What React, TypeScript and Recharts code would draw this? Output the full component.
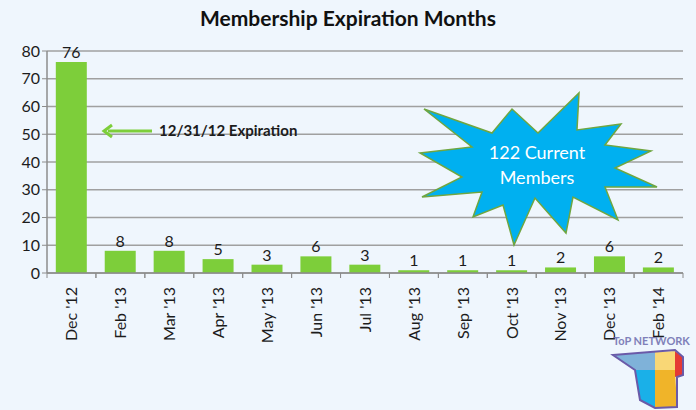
import { BarChart, Bar, XAxis, YAxis, CartesianGrid, LabelList } from 'recharts'

const MONTHS = ["Dec '12", "Feb '13", "Mar '13", "Apr '13", "May '13", "Jun '13", "Jul '13", "Aug '13", "Sep '13", "Oct '13", "Nov '13", "Dec '13", "Feb '14"]
const MEMBERS = [76, 8, 8, 5, 3, 6, 3, 1, 1, 1, 2, 6, 2]
const Y_TICKS = [0, 10, 20, 30, 40, 50, 60, 70, 80]

const W = 696
const H = 410
const LEFT = 47
const RIGHT = 13
const TOP = 51
const BAND = (W - LEFT - RIGHT) / MONTHS.length

const FONT = 'Lato, "Open Sans", sans-serif'
const GREEN = '#7dce3a'
const TEXT = '#1c1c1c'

const data = MONTHS.map((m, i) => ({ name: m, value: MEMBERS[i] }))

// starburst outline
const STAR = [
  [424, 109], [492, 133], [512, 109], [538, 133], [579, 93], [577, 130],
  [621, 124], [605, 145], [651, 151], [615, 168], [657, 187], [605, 187],
  [618, 220], [573, 197], [566, 233], [535, 198], [514, 245], [503, 205],
  [473, 217], [482, 192], [422, 197], [462, 177], [420, 153], [472, 147],
]

function MonthTick(props: any) {
  const { x, y, payload } = props
  return (
    <g>
      <line x1={x - BAND / 2} x2={x - BAND / 2} y1={y - 8} y2={y - 3} stroke="#8c8c8c" />
      <line x1={x + BAND / 2} x2={x + BAND / 2} y1={y - 8} y2={y - 3} stroke="#8c8c8c" />
      <g transform={`translate(${x},${y + 6})`}>
        <text
          transform="rotate(-90)"
          textAnchor="end"
          dy="0.36em"
          fontSize={16}
          fontFamily={FONT}
          fill={TEXT}
        >
          {payload.value}
        </text>
      </g>
    </g>
  )
}

export default function App() {
  return (
    <div style={{ position: 'absolute', left: 0, top: 0, width: W, height: H, background: '#eff6fd', overflow: 'hidden' }}>
      <div
        style={{
          position: 'absolute', left: 0, top: 5, width: W, textAlign: 'center',
          fontFamily: FONT, fontWeight: 700, fontSize: 21, color: '#111',
        }}
      >
        Membership Expiration Months
      </div>
      <BarChart
        width={W}
        height={H}
        data={data}
        margin={{ top: TOP, right: RIGHT, bottom: 77, left: 0 }}
        barCategoryGap="18%"
      >
        <CartesianGrid horizontal vertical={false} stroke="#a0a0a0" strokeWidth={1.5} />
        <XAxis
          dataKey="name"
          interval={0}
          height={60}
          tickLine={false}
          axisLine={{ stroke: '#8c8c8c', strokeWidth: 1.5 }}
          tick={<MonthTick />}
        />
        <YAxis
          domain={[0, 80]}
          ticks={Y_TICKS}
          width={LEFT}
          tickSize={5}
          tickLine={{ stroke: '#8c8c8c' }}
          axisLine={{ stroke: '#8c8c8c', strokeWidth: 1.5 }}
          tick={{ fontSize: 16, fontFamily: FONT, fill: TEXT }}
        />
        <Bar dataKey="value" fill={GREEN} isAnimationActive={false}>
          <LabelList dataKey="value" position="top" offset={4} fontSize={16} fontFamily={FONT} fill={TEXT} />
        </Bar>
      </BarChart>
      <svg width={W} height={H} style={{ position: 'absolute', left: 0, top: 0, pointerEvents: 'none' }}>
        {/* arrow to Dec '12 */}
        <line x1={108} y1={131} x2={152} y2={131} stroke={GREEN} strokeWidth={3} />
        <polyline points="112,125 104,131 112,137" fill="none" stroke={GREEN} strokeWidth={3} />
        <text x={159} y={136} fontSize={15} fontWeight={700} fontFamily={FONT} fill={TEXT}>
          12/31/12 Expiration
        </text>
        {/* starburst */}
        <polygon points={STAR.map(p => p.join(',')).join(' ')} fill="#00b0f0" stroke="#6fa640" strokeWidth={1.5} />
        <text x={537} y={159} textAnchor="middle" fontSize={18} fontFamily={FONT} fill="#ffffff">122 Current</text>
        <text x={537} y={184} textAnchor="middle" fontSize={18} fontFamily={FONT} fill="#ffffff">Members</text>
        {/* logo */}
        <text x={613} y={345} fontSize={11} fontWeight={700} fontFamily={FONT} fill="#6c6cae" opacity={0.85}>ToP NETWORK</text>
        <polygon points="613,355 655,352 655,370 635,370" fill="#7fb2d9" />
        <polygon points="635,370 655,370 655,408 640,400" fill="#1ab0e8" />
        <polygon points="655,352 675,351 675,370 655,370" fill="#f9d776" />
        <polygon points="655,370 675,370 677,407 655,408" fill="#f0b429" />
        <polygon points="675,351 683,357 683,375 675,377" fill="#e53935" />
        <polygon
          points="613,355 675,350 683,357 683,375 677,377 677,407 655,408 640,400 635,370"
          fill="none" stroke="#6a5aa8" strokeWidth={2}
        />
      </svg>
    </div>
  )
}
